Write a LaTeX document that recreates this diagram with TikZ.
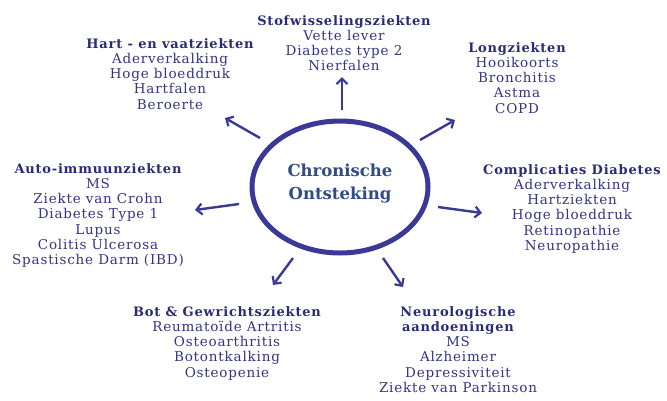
\documentclass[tikz,border=0pt]{standalone}
\usepackage{fontspec}
\setmainfont{DejaVu Serif}[LetterSpace=6]
\newfontfamily\ctrfont{DejaVu Serif}
\usetikzlibrary{arrows.meta,shapes.geometric}
\definecolor{txt}{HTML}{343488}
\definecolor{hdr}{HTML}{2A2A78}
\definecolor{ctr}{HTML}{304C88}
\definecolor{ring}{HTML}{3A3A96}
\tikzset{
  blk/.style={anchor=north, inner sep=0pt, align=center, text=txt,
    font=\fontsize{13.5}{15.3}\selectfont},
  arr/.style={draw=ring, line width=2.4pt,
    -{Straight Barb[length=5.5pt,width=11pt,line width=2.2pt]}},
}
\newcommand{\hd}[1]{{\fontsize{13}{15.3}\selectfont\bfseries\color{hdr}#1}}
\begin{document}
\begin{tikzpicture}[x=1pt,y=-1pt]
\useasboundingbox (0,0) rectangle (667,400);
\fill[white] (0,0) rectangle (667,400);
\node[draw=ring, line width=5pt, ellipse, minimum width=176pt, minimum height=132pt, inner sep=0pt] (c) at (340,187) {};
\node[align=center, text=ctr, font=\ctrfont\fontsize{16.5}{23}\selectfont\bfseries] (ct) at (340,184) {Chronische\\Ontsteking};

\node[blk] (stof) at (344,15) {\hd{Stofwisselingsziekten}\\Vette lever\\Diabetes type 2\\Nierfalen};
\node[blk] (hart) at (170,38) {\hd{Hart - en vaatziekten}\\Aderverkalking\\Hoge bloeddruk\\Hartfalen\\Beroerte};
\node[blk] (long) at (517,42) {\hd{Longziekten}\\Hooikoorts\\Bronchitis\\Astma\\COPD};
\node[blk] (comp) at (572,164) {\hd{Complicaties Diabetes}\\Aderverkalking\\Hartziekten\\Hoge bloeddruk\\Retinopathie\\Neuropathie};
\node[blk] (auto) at (98,163) {\hd{Auto-immuunziekten}\\MS\\Ziekte van Crohn\\Diabetes Type 1\\Lupus\\Colitis Ulcerosa\\Spastische Darm (IBD)};
\node[blk] (bot) at (227,306) {\hd{Bot \& Gewrichtsziekten}\\Reumato\"ide Artritis\\Osteoarthritis\\Botontkalking\\Osteopenie};
\node[blk] (neuro) at (458,306) {\hd{Neurologische}\\\hd{aandoeningen}\\MS\\Alzheimer\\Depressiviteit\\Ziekte van Parkinson};

\coordinate (a1s) at (342,110); \coordinate (a1e) at (342,77);
\coordinate (a2s) at (260,138); \coordinate (a2e) at (225,118);
\coordinate (a3s) at (420,140); \coordinate (a3e) at (455,120);
\coordinate (a4s) at (239,204); \coordinate (a4e) at (195,210);
\coordinate (a5s) at (438,207); \coordinate (a5e) at (482,213);
\coordinate (a6s) at (293,258); \coordinate (a6e) at (273,285);
\coordinate (a7s) at (383,258); \coordinate (a7e) at (403,287);
\foreach \i in {1,...,7} \draw[arr] (a\i s) -- (a\i e);
\end{tikzpicture}
\end{document}
